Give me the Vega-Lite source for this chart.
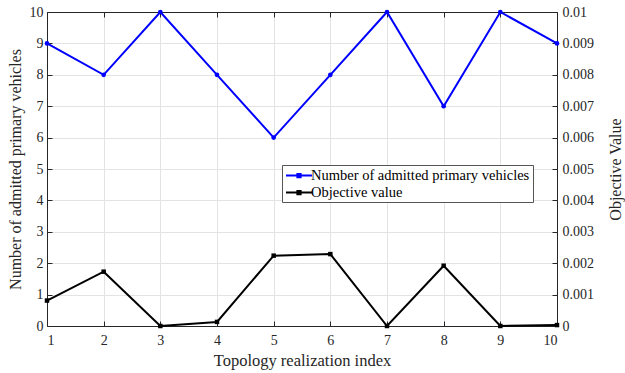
{
  "$schema": "https://vega.github.io/schema/vega-lite/v6.json",
  "width": 510,
  "height": 314,
  "autosize": {"type": "none"},
  "padding": {"left": 47, "top": 12, "right": 68, "bottom": 47},
  "background": "white",
  "config": {
    "font": "Liberation Serif",
    "view": {"stroke": null},
    "axis": {"labelFont": "Liberation Serif", "titleFont": "Liberation Serif", "labelFontSize": 14, "titleFontSize": 16, "titleFontWeight": "normal", "labelColor": "#262626", "titleColor": "#262626", "domainColor": "#262626", "tickColor": "#262626", "gridColor": "#e3e3e3"}
  },
  "data": {
    "values": [
      {"idx": 1, "series": "Number of admitted primary vehicles", "value": 9},
      {"idx": 2, "series": "Number of admitted primary vehicles", "value": 8},
      {"idx": 3, "series": "Number of admitted primary vehicles", "value": 10},
      {"idx": 4, "series": "Number of admitted primary vehicles", "value": 8},
      {"idx": 5, "series": "Number of admitted primary vehicles", "value": 6},
      {"idx": 6, "series": "Number of admitted primary vehicles", "value": 8},
      {"idx": 7, "series": "Number of admitted primary vehicles", "value": 10},
      {"idx": 8, "series": "Number of admitted primary vehicles", "value": 7},
      {"idx": 9, "series": "Number of admitted primary vehicles", "value": 10},
      {"idx": 10, "series": "Number of admitted primary vehicles", "value": 9},
      {"idx": 1, "series": "Objective value", "value": 0.00081},
      {"idx": 2, "series": "Objective value", "value": 0.00173},
      {"idx": 3, "series": "Objective value", "value": 0.0},
      {"idx": 4, "series": "Objective value", "value": 0.00013},
      {"idx": 5, "series": "Objective value", "value": 0.00224},
      {"idx": 6, "series": "Objective value", "value": 0.00229},
      {"idx": 7, "series": "Objective value", "value": 0.0},
      {"idx": 8, "series": "Objective value", "value": 0.00192},
      {"idx": 9, "series": "Objective value", "value": 0.0},
      {"idx": 10, "series": "Objective value", "value": 0.00003}
    ]
  },
  "layer": [
    {
      "transform": [{"filter": "datum.series === 'Number of admitted primary vehicles'"}],
      "encoding": {
        "x": {"field": "idx", "type": "quantitative", "scale": {"domain": [1, 10], "nice": false, "zero": false},
              "axis": {"title": "Topology realization index", "values": [1,2,3,4,5,6,7,8,9,10], "tickSize": -5, "labelFontSize": 14, "labelPadding": 12, "titlePadding": 5, "titleFontSize": 16.5, "grid": true}},
        "y": {"field": "value", "type": "quantitative", "scale": {"domain": [0, 10], "nice": false},
              "axis": {"title": "Number of admitted primary vehicles", "orient": "left", "values": [0,1,2,3,4,5,6,7,8,9,10], "tickSize": -5, "labelFontSize": 14, "labelPadding": 9, "titlePadding": 6, "titleFontSize": 16, "grid": true}},
        "color": {"field": "series", "type": "nominal",
                  "scale": {"domain": ["Number of admitted primary vehicles", "Objective value"], "range": ["#0000ff", "#000000"]},
                  "legend": {"title": null, "orient": "none", "legendX": 235, "legendY": 153, "labelFont": "Liberation Serif", "labelFontSize": 14.5, "labelColor": "#000", "labelLimit": 0, "strokeColor": "#555", "fillColor": "white", "padding": 3, "rowPadding": 2, "symbolType": "M-1,0H3M0.75,-0.25H1.25V0.25H0.75Z", "symbolSize": 169, "symbolStrokeWidth": 2, "labelOffset": 11}}
      },
      "layer": [
        {"mark": {"type": "line", "strokeWidth": 2}},
        {"mark": {"type": "point", "filled": true, "size": 22, "opacity": 1}}
      ]
    },
    {
      "transform": [{"filter": "datum.series === 'Objective value'"}],
      "encoding": {
        "x": {"field": "idx", "type": "quantitative", "scale": {"domain": [1, 10], "nice": false, "zero": false},
              "axis": {"title": null, "orient": "top", "values": [1,2,3,4,5,6,7,8,9,10], "tickSize": -5, "labels": false, "grid": false}},
        "y": {"field": "value", "type": "quantitative", "scale": {"domain": [0, 0.01], "nice": false},
              "axis": {"title": "Objective Value", "orient": "right", "values": [0,0.001,0.002,0.003,0.004,0.005,0.006,0.007,0.008,0.009,0.01], "format": "~g", "tickSize": -5, "labelFontSize": 14, "labelPadding": 10, "titlePadding": 30, "titleFontSize": 16, "titleAngle": 270, "grid": false}},
        "color": {"field": "series", "type": "nominal"}
      },
      "layer": [
        {"mark": {"type": "line", "strokeWidth": 2}},
        {"mark": {"type": "point", "filled": true, "shape": "square", "size": 20, "opacity": 1}}
      ]
    }
  ],
  "resolve": {"scale": {"y": "independent"}, "axis": {"x": "independent", "y": "independent"}}
}
